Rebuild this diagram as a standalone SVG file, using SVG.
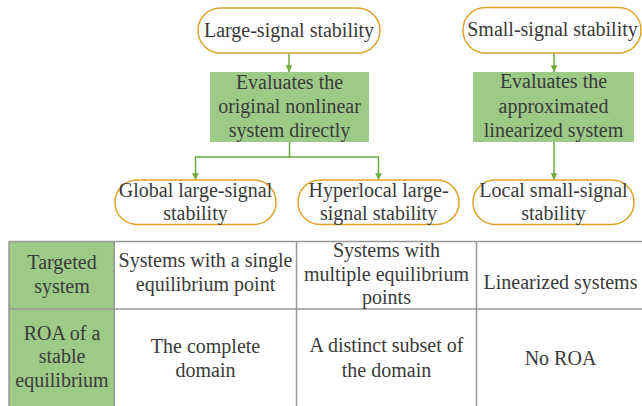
<svg xmlns="http://www.w3.org/2000/svg" width="642" height="406" viewBox="0 0 642 406">
<defs>
<style>
text{font-family:"Liberation Serif","Times New Roman",serif;font-size:20px;fill:#3a3a3a;text-anchor:middle}
.pill{fill:#fff;stroke:#dea42a;stroke-width:1.5}
.box{fill:#9dca86}
.conn{fill:none;stroke:#6cab3e;stroke-width:1.5}
.grid{fill:none;stroke:#999;stroke-width:1.5}
</style>
<marker id="ah" viewBox="0 0 10 10" refX="10" refY="5" markerWidth="4.5" markerHeight="4.5" orient="auto" markerUnits="strokeWidth">
<path d="M0,0L10,5L0,10z" fill="#6cab3e"/>
</marker>
</defs>
<rect width="642" height="406" fill="#fff"/>
<g id="connectors">
<path class="conn" d="M289,53V72" marker-end="url(#ah)"/>
<path class="conn" d="M554,53V72" marker-end="url(#ah)"/>
<path class="conn" d="M289.5,142V157H195.5V180" marker-end="url(#ah)"/>
<path class="conn" d="M289.5,157H378.5V180" marker-end="url(#ah)"/>
<path class="conn" d="M554,142V180" marker-end="url(#ah)"/>
</g>
<g id="large-signal">
<rect class="pill" x="198" y="8" width="182" height="45" rx="22.5"/>
<text x="289" y="37">Large-signal stability</text>
</g>
<g id="small-signal">
<rect class="pill" x="463" y="7.5" width="178" height="45.5" rx="22.5"/>
<text x="552.5" y="36">Small-signal stability</text>
</g>
<g id="eval-nonlinear">
<rect class="box" x="210" y="72" width="159" height="70"/>
<text x="289.5" y="89">Evaluates the</text>
<text x="289.5" y="113">original nonlinear</text>
<text x="289.5" y="137">system directly</text>
</g>
<g id="eval-linearized">
<rect class="box" x="473" y="72" width="161" height="70"/>
<text x="553.5" y="88">Evaluates the</text>
<text x="553.5" y="113">approximated</text>
<text x="553.5" y="137">linearized system</text>
</g>
<g id="global">
<rect class="pill" x="115" y="180" width="161" height="44.5" rx="22"/>
<text x="195.5" y="197">Global large-signal</text>
<text x="195.5" y="220">stability</text>
</g>
<g id="hyperlocal">
<rect class="pill" x="298" y="180" width="161" height="44.5" rx="22"/>
<text x="378.5" y="197">Hyperlocal large-</text>
<text x="378.5" y="220">signal stability</text>
</g>
<g id="local">
<rect class="pill" x="473" y="180" width="161" height="44.5" rx="22"/>
<text x="553.5" y="197">Local small-signal</text>
<text x="553.5" y="220">stability</text>
</g>
<g id="table">
<rect class="box" x="9" y="241.5" width="105.3" height="170"/>
<path class="grid" d="M9,241.5H645M9,309H645M9,241.5V410M114.3,241.5V410M296.5,241.5V410M476.5,241.5V410"/>
<text x="62" y="269">Targeted</text>
<text x="62" y="293">system</text>
<text x="62" y="340">ROA of a</text>
<text x="62" y="363">stable</text>
<text x="62" y="387">equilibrium</text>
<text x="205.5" y="267">Systems with a single</text>
<text x="205.5" y="291">equilibrium point</text>
<text x="205.5" y="353">The complete</text>
<text x="205.5" y="377">domain</text>
<text x="386.5" y="257">Systems with</text>
<text x="386.5" y="281">multiple equilibrium</text>
<text x="386.5" y="304">points</text>
<text x="386.5" y="352">A distinct subset of</text>
<text x="386.5" y="377">the domain</text>
<text x="560.5" y="289">Linearized systems</text>
<text x="560.5" y="365">No ROA</text>
</g>
</svg>
